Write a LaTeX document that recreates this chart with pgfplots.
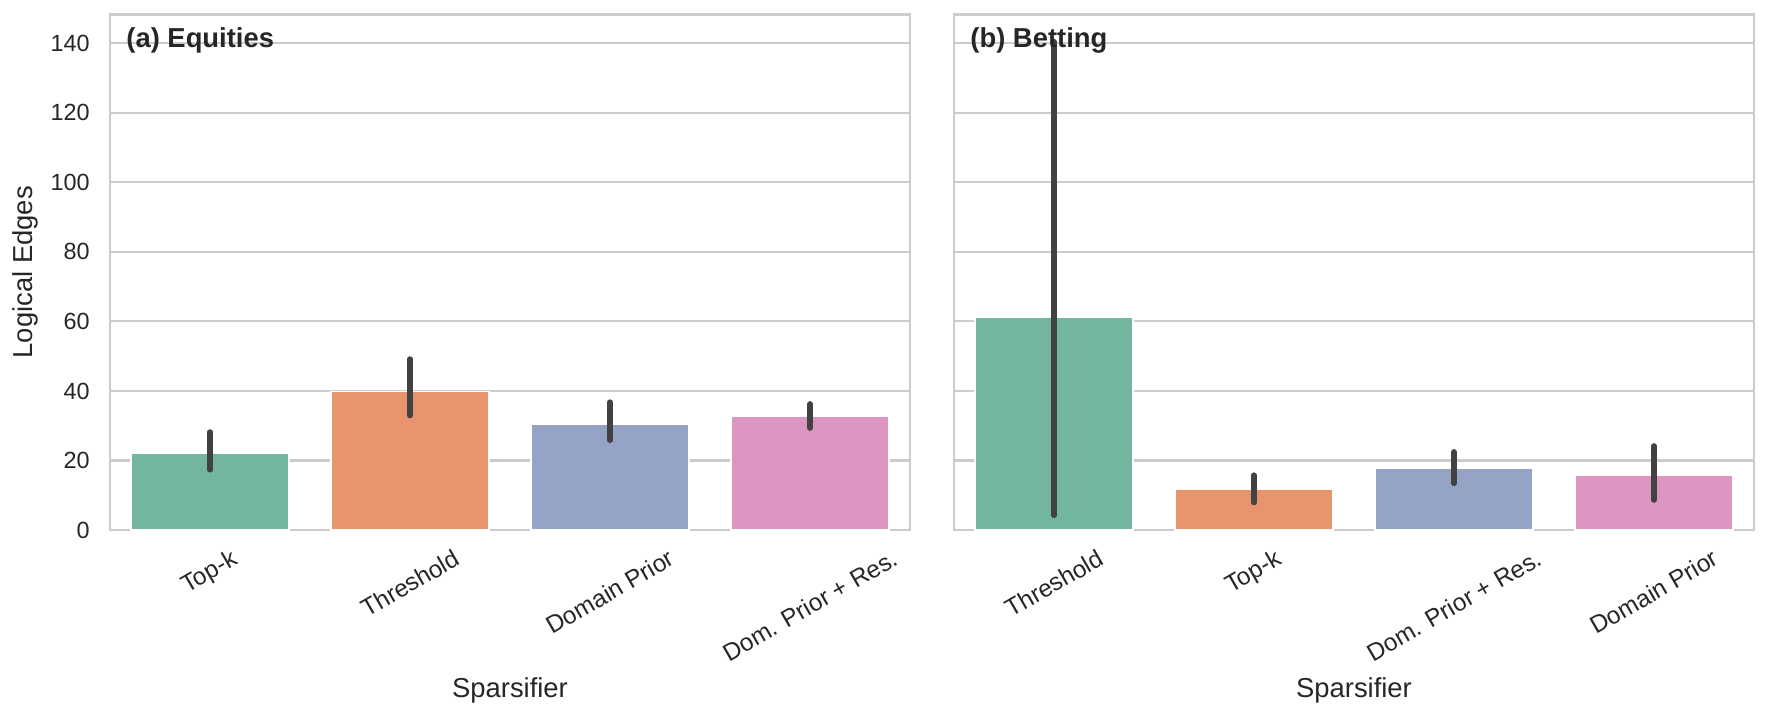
\documentclass[border=0pt]{standalone}
\usepackage{fontspec}
\setmainfont{Liberation Sans}
\usepackage{graphicx}
\usepackage{pgfplots}
\pgfplotsset{compat=1.18}

\definecolor{cGreen}{HTML}{72B6A1}
\definecolor{cOrange}{HTML}{E8956F}
\definecolor{cBlue}{HTML}{94A3C6}
\definecolor{cPink}{HTML}{DC96C1}
\definecolor{gridgray}{HTML}{CCCCCC}
\definecolor{errgray}{HTML}{424242}
\definecolor{txt}{HTML}{262626}

\tikzset{
  paneltitle/.style={anchor=north west, inner sep=0pt, text=txt,
    font=\fontsize{13.7}{15}\selectfont\bfseries},
}

\pgfplotsset{
  panel/.style={
    scale only axis,
    width=400pt, height=257.75pt,
    anchor=south west,
    xmin=-0.5, xmax=3.5,
    ymin=0, ymax=148.3,
    xtick={0,1,2,3},
    ytick={0,20,40,60,80,100,120,140},
    major tick length=0pt,
    ymajorgrids,
    grid style={gridgray, line width=1.04pt},
    axis line style={gridgray, line width=1.3pt},
    tick label style={text=txt},
    /pgf/number format/assume math mode=true,
    yticklabel style={anchor=east, inner sep=0pt, xshift=-10pt, font=\fontsize{11.7}{13}\selectfont},
    xticklabel style={anchor=north, inner sep=0pt, yshift=-9pt, font=\fontsize{12.2}{14}\selectfont},
    label style={font=\fontsize{13.7}{15}\selectfont, text=txt},
    xlabel={Sparsifier},
    xlabel style={at={(axis description cs:0.5,-0.3104)}, anchor=center},
  },
  sbar/.style={ybar, bar shift=0pt, bar width=0.79, draw=white, line width=0.6pt, fill=#1,
    error bars/.cd, y dir=both, y explicit, error mark=none,
    error bar style={line width=2.7pt, color=errgray, line cap=round}},
}

\begin{document}
\begin{tikzpicture}
\path[use as bounding box] (0,0) rectangle (884.5pt,360pt);

% (a) Equities
\begin{axis}[panel, at={(55pt,95pt)},
  xticklabels={{\rotatebox{30}{Top-k}},{\rotatebox{30}{Threshold}},{\rotatebox{30}{Domain Prior}},{\rotatebox{30}{Dom. Prior + Res.}}},
  ylabel={Logical Edges},
  ylabel style={at={(axis description cs:-0.10625,0.5)}, anchor=center},
]
\addplot[sbar=cGreen]  coordinates {(0,22.1) += (0,6.1) -= (0,4.8)};
\addplot[sbar=cOrange] coordinates {(1,39.9) += (0,9.3) -= (0,7.0)};
\addplot[sbar=cBlue]   coordinates {(2,30.5) += (0,6.3) -= (0,4.7)};
\addplot[sbar=cPink]   coordinates {(3,32.7) += (0,3.6) -= (0,3.4)};
\node[paneltitle] at (rel axis cs:0.02,0.975) {(a) Equities};
\end{axis}

% (b) Betting
\begin{axis}[panel, at={(477pt,95pt)},
  xticklabels={{\rotatebox{30}{Threshold}},{\rotatebox{30}{Top-k}},{\rotatebox{30}{Dom. Prior + Res.}},{\rotatebox{30}{Domain Prior}}},
  yticklabels={},
]
\addplot[sbar=cGreen]  coordinates {(0,61.2) += (0,79.3) -= (0,57.0)};
\addplot[sbar=cOrange] coordinates {(1,11.6) += (0,4.2) -= (0,3.7)};
\addplot[sbar=cBlue]   coordinates {(2,17.7) += (0,4.8) -= (0,4.3)};
\addplot[sbar=cPink]   coordinates {(3,15.7) += (0,8.5) -= (0,7.1)};
\node[paneltitle] at (rel axis cs:0.02,0.975) {(b) Betting};
\end{axis}
\end{tikzpicture}
\end{document}
